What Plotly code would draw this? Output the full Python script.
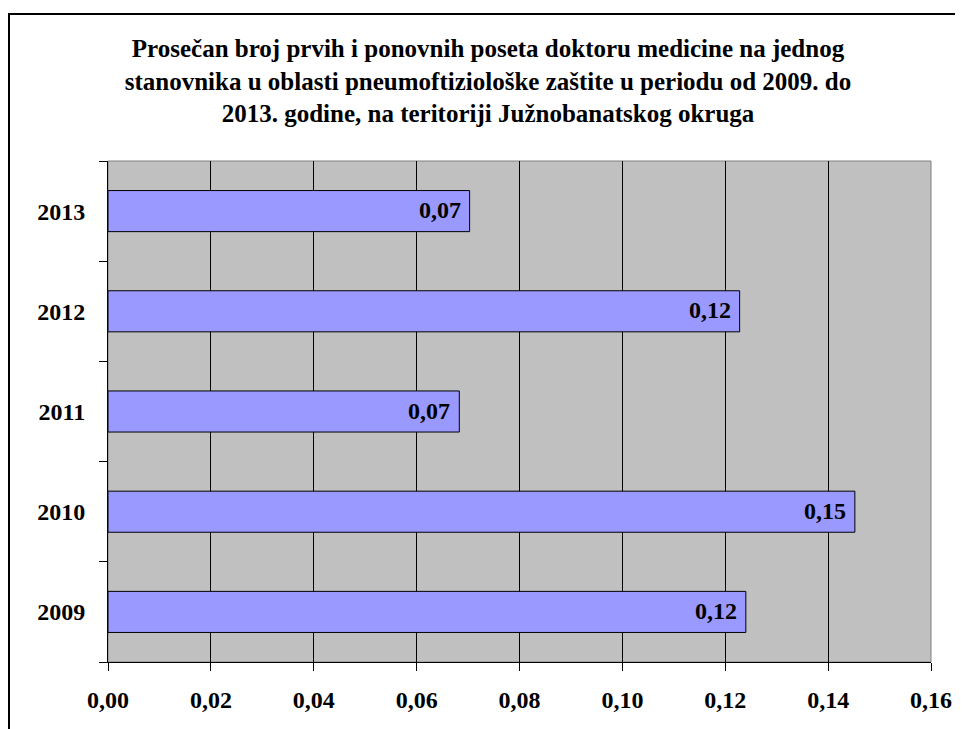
import plotly.graph_objects as go

years = ["2009", "2010", "2011", "2012", "2013"]
values = [0.124, 0.1452, 0.0683, 0.1228, 0.0703]
x_ticks = [0.00, 0.02, 0.04, 0.06, 0.08, 0.10, 0.12, 0.14, 0.16]

title_text = ("Prosečan broj prvih i ponovnih poseta doktoru medicine na jednog<br>"
              "stanovnika u oblasti pneumoftiziološke zaštite u periodu od 2009. do<br>"
              "2013. godine, na teritoriji Južnobanatskog okruga")

FONT = "Liberation Serif"
OFF = 8  # page body margin offset

W, H = 963 - OFF, 729 - OFF
L, R, T, B = 108 - OFF, 931 - OFF, 161 - OFF, 662 - OFF
pw, ph = R - L, B - T

def px(x):
    return (x - OFF - L) / pw

def py(y):
    return (B - (y - OFF)) / ph

fig = go.Figure()
fig.add_trace(go.Bar(
    y=years, x=values, orientation="h",
    marker=dict(color="#9999FF", line=dict(color="black", width=1)),
    hoverinfo="skip",
))

for i, v in enumerate(values):
    fig.add_annotation(x=v, y=i, xref="x", yref="y", text=f"{v:.2f}".replace(".", ","),
                       showarrow=False, xanchor="right", yanchor="middle", xshift=-7, yshift=1,
                       font=dict(family=FONT, size=24, color="black", weight="bold"))

fig.update_layout(
    width=W, height=H,
    margin=dict(l=L, r=W - R, t=T, b=H - B, pad=0),
    paper_bgcolor="white", plot_bgcolor="#C0C0C0",
    separators=",.",
    bargap=0.59,
    showlegend=False,
    title=dict(text=title_text, x=(488 - OFF) / W, xanchor="center",
               y=1 - (57 - OFF) / H, yanchor="top", yref="container", xref="container",
               font=dict(family=FONT, size=25, color="black", weight="bold")),
    xaxis=dict(range=[0, 0.16], tickvals=x_ticks, tickformat=".2f",
               showgrid=True, gridcolor="black", gridwidth=1,
               showline=True, linecolor="black", linewidth=1,
               ticks="outside", ticklen=8, tickcolor="black", tickwidth=1,
               tickfont=dict(family=FONT, size=24, color="black", weight="bold"),
               ticklabelstandoff=8,
               zeroline=False, fixedrange=True),
    yaxis=dict(type="category", categoryorder="array", categoryarray=years,
               range=[-0.5, 4.5], autorange=False,
               tickson="boundaries", showgrid=False,
               showline=True, linecolor="black", linewidth=1,
               ticks="outside", ticklen=8, tickcolor="black", tickwidth=1,
               tickfont=dict(family=FONT, size=24, color="black", weight="bold"),
               ticklabelstandoff=17, fixedrange=True),
    shapes=[
        dict(type="rect", xref="paper", yref="paper", x0=0, x1=1, y0=0, y1=1,
             line=dict(color="#808080", width=1), layer="below"),
        dict(type="rect", xref="paper", yref="paper",
             x0=px(9), x1=px(963 + 40), y0=py(729 + 40), y1=py(14),
             line=dict(color="black", width=2)),
    ],
)

fig.write_html("out.html")
